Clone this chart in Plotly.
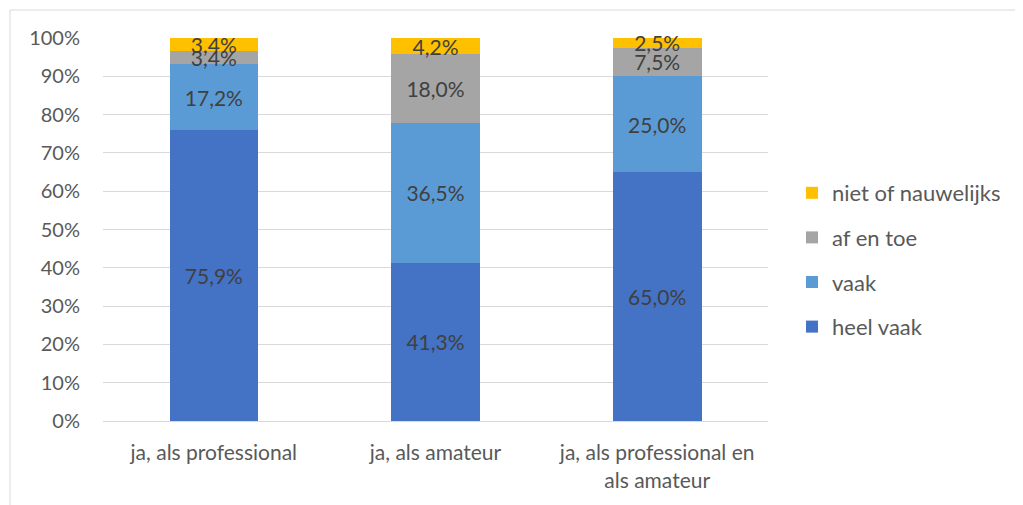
import plotly.graph_objects as go

categories = ["ja, als professional", "ja, als amateur", "ja, als professional en<br>als amateur"]
series_names = ["heel vaak", "vaak", "af en toe", "niet of nauwelijks"]
heel_vaak = [75.9, 41.3, 65.0]
vaak = [17.2, 36.5, 25.0]
af_en_toe = [3.4, 18.0, 7.5]
niet = [3.4, 4.2, 2.5]
colors = ["#4472C4", "#5B9BD5", "#A5A5A5", "#FFC000"]
y_ticks = [0, 10, 20, 30, 40, 50, 60, 70, 80, 90, 100]
y_ticktext = [f"{v}%" for v in y_ticks]

FONT = "Lato"

def fmt(v):
    return f"{v:.1f}".replace(".", ",") + "%"

fig = go.Figure()
for i, (name, vals) in enumerate(zip(series_names, [heel_vaak, vaak, af_en_toe, niet])):
    fig.add_trace(go.Bar(
        x=categories, y=vals, name=name,
        marker=dict(color=colors[i], line=dict(width=0)),
        text=[fmt(v) for v in vals], textposition="inside",
        insidetextanchor="middle", constraintext="none",
        textfont=dict(family=FONT, size=21, color="#404040"),
        width=0.4, legendrank=10 - i, legendgroup=name, cliponaxis=False,
    ))

OFF = 8  # page body margin
W, H = 1023 - OFF, 505 - OFF
# plot area in page pixels: x 103..768, y 38..421
L, R, T, B = 103 - OFF, 1023 - 768, 38 - OFF, 505 - 421
pw, ph = W - L - R, H - T - B

def px_x(x):  # page x -> paper
    return (x - 103) / pw

def px_y(y):  # page y -> paper
    return (421 - y) / ph

fig.update_layout(
    width=W, height=H,
    barmode="stack",
    margin=dict(l=L, r=R, t=T, b=B, pad=0),
    paper_bgcolor="white", plot_bgcolor="white",
    font=dict(family=FONT, size=19, color="#595959"),
    uniformtext=dict(minsize=21, mode="show"),
    showlegend=True,
    legend=dict(
        x=px_x(792), y=px_y(172), xanchor="left", yanchor="top",
        traceorder="grouped", tracegroupgap=13, itemwidth=30,
        font=dict(family=FONT, size=22, color="#595959"),
        bgcolor="rgba(0,0,0,0)",
    ),
    xaxis=dict(showgrid=False, showline=True, linecolor="#d9d9d9", linewidth=1,
               ticks="", ticklabelstandoff=13,
               tickfont=dict(family=FONT, size=21, color="#595959")),
    yaxis=dict(range=[0, 100], tickmode="array", tickvals=y_ticks, ticktext=y_ticktext,
               showgrid=True, gridcolor="#d9d9d9", gridwidth=1,
               zeroline=False, showline=False, ticks="", ticklabelstandoff=22,
               tickfont=dict(family=FONT, size=20, color="#595959")),
    shapes=[dict(type="rect", xref="paper", yref="paper",
                 x0=px_x(10), x1=px_x(1060),
                 y0=px_y(540), y1=px_y(10),
                 line=dict(color="#d9d9d9", width=1), fillcolor="rgba(0,0,0,0)", layer="below")],
)

fig.write_html("out.html")
